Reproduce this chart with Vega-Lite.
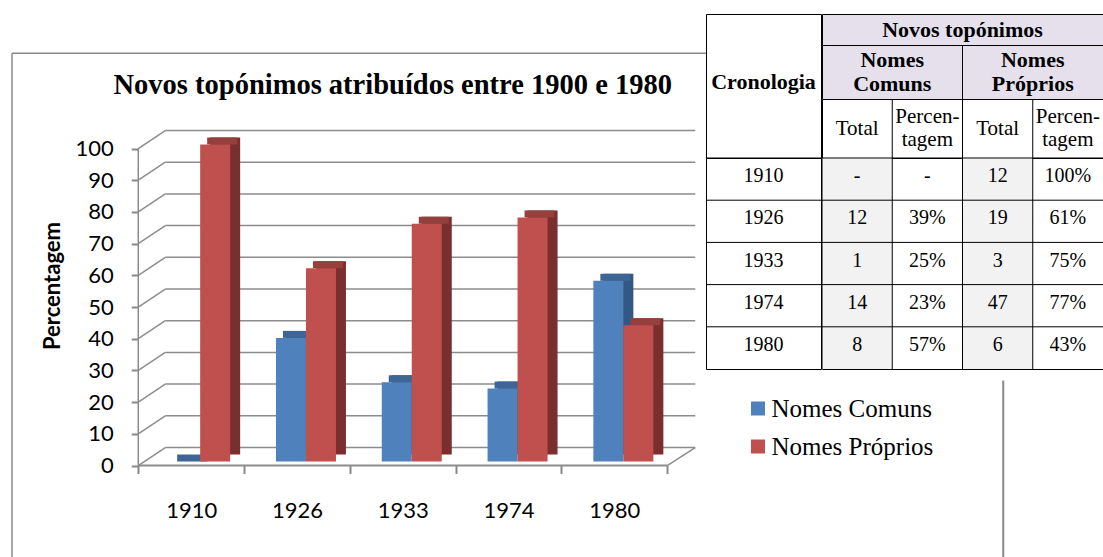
{
  "$schema": "https://vega.github.io/schema/vega-lite/v6.json",
  "padding": {"left": 11, "top": 13, "right": 0, "bottom": 0},
  "background": "white",
  "bounds": "flush",
  "spacing": 0,
  "config": {"view": {"stroke": null}, "concat": {"spacing": 0}, "font": "Liberation Serif"},
  "datasets": {
    "bars": [
      {"year": "1910", "series": "Nomes Comuns", "value": 0},
      {"year": "1926", "series": "Nomes Comuns", "value": 39},
      {"year": "1933", "series": "Nomes Comuns", "value": 25},
      {"year": "1974", "series": "Nomes Comuns", "value": 23},
      {"year": "1980", "series": "Nomes Comuns", "value": 57},
      {"year": "1910", "series": "Nomes Próprios", "value": 100},
      {"year": "1926", "series": "Nomes Próprios", "value": 61},
      {"year": "1933", "series": "Nomes Próprios", "value": 75},
      {"year": "1974", "series": "Nomes Próprios", "value": 77},
      {"year": "1980", "series": "Nomes Próprios", "value": 43}
    ],
    "cells": [
      {"year": "1910", "col": "NCT", "text": "-"},
      {"year": "1910", "col": "NCP", "text": "-"},
      {"year": "1910", "col": "NPT", "text": "12"},
      {"year": "1910", "col": "NPP", "text": "100%"},
      {"year": "1926", "col": "NCT", "text": "12"},
      {"year": "1926", "col": "NCP", "text": "39%"},
      {"year": "1926", "col": "NPT", "text": "19"},
      {"year": "1926", "col": "NPP", "text": "61%"},
      {"year": "1933", "col": "NCT", "text": "1"},
      {"year": "1933", "col": "NCP", "text": "25%"},
      {"year": "1933", "col": "NPT", "text": "3"},
      {"year": "1933", "col": "NPP", "text": "75%"},
      {"year": "1974", "col": "NCT", "text": "14"},
      {"year": "1974", "col": "NCP", "text": "23%"},
      {"year": "1974", "col": "NPT", "text": "47"},
      {"year": "1974", "col": "NPP", "text": "77%"},
      {"year": "1980", "col": "NCT", "text": "8"},
      {"year": "1980", "col": "NCP", "text": "57%"},
      {"year": "1980", "col": "NPT", "text": "6"},
      {"year": "1980", "col": "NPP", "text": "43%"}
    ],
    "grid": [{"v": 0}, {"v": 10}, {"v": 20}, {"v": 30}, {"v": 40}, {"v": 50}, {"v": 60}, {"v": 70}, {"v": 80}, {"v": 90}, {"v": 100}],
    "one": [{"k": 1}]
  },
  "hconcat": [
    {
      "width": 694,
      "height": 543,
      "layer": [
        {
          "data": {"name": "one"},
          "mark": {"type": "rule", "color": "#888888", "strokeWidth": 1.5},
          "encoding": {
            "x": {"datum": "1910", "type": "nominal", "bandPosition": -1.1933,
              "scale": {"type": "band", "domain": ["1910", "1926", "1933", "1974", "1980"], "paddingInner": 0, "paddingOuter": 0.7798, "align": 0.7652},
              "axis": {"orient": "bottom", "offset": -91.5, "tickBand": "extent", "domain": false, "grid": false, "ticks": true, "tickSize": 8, "tickColor": "#888888", "tickWidth": 2, "labelFont": "Lato", "labelFontSize": 22, "labelColor": "#000000", "labelPadding": 27, "labelAngle": 0, "title": null}},
            "y": {"datum": 130.06, "type": "quantitative",
              "scale": {"domain": [-28.86, 142.43], "nice": false, "zero": false},
              "axis": {"orient": "left", "offset": -126.25, "values": [0, 10, 20, 30, 40, 50, 60, 70, 80, 90, 100], "domain": false, "grid": false, "ticks": true, "tickSize": 7, "tickColor": "#888888", "tickWidth": 2, "labelFont": "Lato", "labelFontSize": 22, "labelColor": "#000000", "labelPadding": 18, "title": "Percentagem", "titleFont": "Lato", "titleFontSize": 22, "titleFontWeight": "bold", "titleColor": "#000000", "titlePadding": 10}},
            "y2": {"datum": -28.86}
          }
        },
        {
          "data": {"name": "one"},
          "mark": {"type": "rule", "color": "#888888", "strokeWidth": 1.5},
          "encoding": {"y": {"datum": 130.06, "type": "quantitative"}}
        },
        {
          "data": {"name": "one"},
          "mark": {"type": "rule", "color": "#888888", "strokeWidth": 2},
          "encoding": {
            "x": {"datum": "1980", "type": "nominal", "bandPosition": 4.1758},
            "y": {"datum": 26.8, "type": "quantitative"},
            "y2": {"datum": -28.86}
          }
        },
        {
          "data": {"name": "grid"},
          "mark": {"type": "rule", "color": "#8c8c8c", "strokeWidth": 1.5, "yOffset": -18},
          "encoding": {
            "x": {"datum": "1910", "type": "nominal", "bandPosition": 0.2552},
            "x2": {"datum": "1980", "bandPosition": 1.2647},
            "y": {"field": "v", "type": "quantitative"}
          }
        },
        {
          "data": {"name": "grid"},
          "mark": {"type": "rule", "color": "#8c8c8c", "strokeWidth": 1.5, "y2Offset": -18},
          "encoding": {
            "x": {"datum": "1910", "type": "nominal", "bandPosition": 0},
            "x2": {"datum": "1910", "bandPosition": 0.2552},
            "y": {"field": "v", "type": "quantitative"},
            "y2": {"field": "v"}
          }
        },
        {
          "data": {"name": "one"},
          "mark": {"type": "rule", "color": "#8c8c8c", "strokeWidth": 2},
          "encoding": {
            "x": {"datum": "1910", "type": "nominal", "bandPosition": 0},
            "x2": {"datum": "1980", "bandPosition": 1},
            "y": {"datum": 0, "type": "quantitative"}
          }
        },
        {
          "data": {"name": "one"},
          "mark": {"type": "rule", "color": "#8c8c8c", "strokeWidth": 1.5, "y2Offset": -18},
          "encoding": {
            "x": {"datum": "1980", "type": "nominal", "bandPosition": 1},
            "x2": {"datum": "1980", "bandPosition": 1.2647},
            "y": {"datum": 0, "type": "quantitative"},
            "y2": {"datum": 0}
          }
        },
        {
          "data": {"name": "one"},
          "mark": {"type": "rule", "color": "#8c8c8c", "strokeWidth": 1.5},
          "encoding": {
            "x": {"datum": "1910", "type": "nominal", "bandPosition": 0},
            "y": {"datum": 0, "type": "quantitative"},
            "y2": {"datum": 100}
          }
        },
        {
          "data": {"name": "bars"},
          "transform": [{"filter": {"field": "series", "equal": "Nomes Comuns"}}],
          "mark": {"type": "bar", "width": 30, "xOffset": 4, "yOffset": -11, "y2Offset": -11, "color": "#345886"},
          "encoding": {"x": {"field": "year", "type": "nominal"}, "y": {"field": "value", "type": "quantitative"}, "y2": {"datum": 0}}
        },
        {
          "data": {"name": "bars"},
          "transform": [{"filter": {"field": "series", "equal": "Nomes Comuns"}}],
          "mark": {"type": "bar", "width": 30, "xOffset": 1, "yOffset": -11, "y2Offset": -4, "color": "#3d6596"},
          "encoding": {"x": {"field": "year", "type": "nominal"}, "y": {"field": "value", "type": "quantitative"}, "y2": {"field": "value"}}
        },
        {
          "data": {"name": "bars"},
          "transform": [{"filter": {"field": "series", "equal": "Nomes Comuns"}}],
          "mark": {"type": "bar", "width": 30, "xOffset": -6, "yOffset": -4, "y2Offset": -4},
          "encoding": {
            "x": {"field": "year", "type": "nominal"},
            "y": {"field": "value", "type": "quantitative"},
            "y2": {"datum": 0},
            "color": {"field": "series", "type": "nominal",
              "scale": {"domain": ["Nomes Comuns", "Nomes Próprios"], "range": ["#4f81bd", "#c0504d"]},
              "legend": {"orient": "none", "legendX": 733.5, "legendY": 382, "direction": "vertical", "title": null, "symbolType": "square", "symbolSize": 196, "symbolStrokeWidth": 0, "symbolOpacity": 1, "labelFont": "Liberation Serif", "labelFontSize": 25, "labelColor": "#000000", "labelLimit": 400, "rowPadding": 12, "labelOffset": 1, "padding": 0}}
          }
        },
        {
          "data": {"name": "bars"},
          "transform": [{"filter": {"field": "series", "equal": "Nomes Próprios"}}],
          "mark": {"type": "bar", "width": 30, "xOffset": 34, "yOffset": -11, "y2Offset": -11, "color": "#7a2f2e"},
          "encoding": {"x": {"field": "year", "type": "nominal"}, "y": {"field": "value", "type": "quantitative"}, "y2": {"datum": 0}}
        },
        {
          "data": {"name": "bars"},
          "transform": [{"filter": {"field": "series", "equal": "Nomes Próprios"}}],
          "mark": {"type": "bar", "width": 30, "xOffset": 31, "yOffset": -11, "y2Offset": -4, "color": "#96403e"},
          "encoding": {"x": {"field": "year", "type": "nominal"}, "y": {"field": "value", "type": "quantitative"}, "y2": {"field": "value"}}
        },
        {
          "data": {"name": "bars"},
          "transform": [{"filter": {"field": "series", "equal": "Nomes Próprios"}}],
          "mark": {"type": "bar", "width": 30, "xOffset": 24, "yOffset": -4, "y2Offset": -4},
          "encoding": {
            "x": {"field": "year", "type": "nominal"},
            "y": {"field": "value", "type": "quantitative"},
            "y2": {"datum": 0},
            "color": {"field": "series", "type": "nominal"}
          }
        },
        {
          "data": {"values": [{"t": "Novos topónimos atribuídos entre 1900 e 1980"}]},
          "mark": {"type": "text", "font": "Liberation Serif", "fontSize": 28.5, "fontWeight": "bold", "color": "#000000", "align": "center", "baseline": "alphabetic"},
          "encoding": {
            "x": {"datum": "1933", "type": "nominal", "bandPosition": 0.405},
            "y": {"datum": 117.26, "type": "quantitative"},
            "text": {"field": "t"}
          }
        }
      ]
    },
    {
      "spacing": -1,
      "hconcat": [
        {
          "spacing": 0,
          "bounds": "flush",
          "vconcat": [
            {
              "width": 115,
              "height": 144,
              "view": {"stroke": "#000000", "strokeWidth": 1, "fill": "#ffffff"},
              "data": {"values": [{"h": "Cronologia"}]},
              "mark": {"type": "text", "font": "Liberation Serif", "fontSize": 22, "fontWeight": "bold", "color": "#000000", "dy": -4},
              "encoding": {"text": {"field": "h"}}
            },
            {
              "width": 115,
              "height": 211,
              "view": {"stroke": "#000000", "strokeWidth": 1, "fill": "#ffffff"},
              "data": {"name": "cells"},
              "transform": [{"filter": {"field": "col", "equal": "NCT"}}],
              "layer": [
                {
                  "mark": {"type": "text", "font": "Liberation Serif", "fontSize": 20, "color": "#000000", "dy": -3},
                  "encoding": {
                    "y": {"field": "year", "type": "nominal", "scale": {"type": "band", "paddingInner": 0, "paddingOuter": 0}, "axis": null},
                    "text": {"field": "year"}
                  }
                },
                {
                  "mark": {"type": "rule", "color": "#000000", "strokeWidth": 1},
                  "encoding": {"y": {"field": "year", "type": "nominal", "bandPosition": 0}}
                }
              ]
            }
          ]
        },
        {
          "spacing": 0,
          "bounds": "flush",
          "vconcat": [
            {
              "width": 281,
              "height": 31,
              "view": {"stroke": "#000000", "strokeWidth": 1, "fill": "#e5e0ec"},
              "data": {"values": [{"h": "Novos topónimos"}]},
              "mark": {"type": "text", "font": "Liberation Serif", "fontSize": 22, "fontWeight": "bold", "color": "#000000"},
              "encoding": {"text": {"field": "h"}}
            },
            {
              "width": 281,
              "height": 54,
              "view": {"stroke": "#000000", "strokeWidth": 1, "fill": "#e5e0ec"},
              "data": {"values": [{"g": "NC", "h": "Nomes\nComuns"}, {"g": "NP", "h": "Nomes\nPróprios"}]},
              "layer": [
                {
                  "mark": {"type": "text", "font": "Liberation Serif", "fontSize": 22, "fontWeight": "bold", "color": "#000000", "lineBreak": "\n", "lineHeight": 24, "dy": -12},
                  "encoding": {
                    "x": {"field": "g", "type": "nominal", "scale": {"type": "band", "paddingInner": 0, "paddingOuter": 0}, "axis": null},
                    "text": {"field": "h"}
                  }
                },
                {
                  "transform": [{"filter": {"field": "g", "equal": "NP"}}],
                  "mark": {"type": "rule", "color": "#000000", "strokeWidth": 1},
                  "encoding": {"x": {"field": "g", "type": "nominal", "bandPosition": 0}}
                }
              ]
            },
            {
              "width": 281,
              "height": 59,
              "view": {"stroke": "#000000", "strokeWidth": 1, "fill": "#ffffff"},
              "data": {"values": [{"c": "NCT", "h": "Total"}, {"c": "NCP", "h": "Percen-\ntagem"}, {"c": "NPT", "h": "Total"}, {"c": "NPP", "h": "Percen-\ntagem"}]},
              "layer": [
                {
                  "transform": [{"filter": {"field": "h", "equal": "Total"}}],
                  "mark": {"type": "text", "font": "Liberation Serif", "fontSize": 21, "color": "#000000"},
                  "encoding": {"x": {"field": "c", "type": "nominal", "scale": {"type": "band", "domain": ["NCT", "NCP", "NPT", "NPP"], "paddingInner": 0, "paddingOuter": 0}, "axis": null}, "text": {"field": "h"}}
                },
                {
                  "transform": [{"filter": {"not": {"field": "h", "equal": "Total"}}}],
                  "mark": {"type": "text", "font": "Liberation Serif", "fontSize": 21, "color": "#000000", "lineBreak": "\n", "lineHeight": 23, "dy": -11.5},
                  "encoding": {"x": {"field": "c", "type": "nominal"}, "text": {"field": "h"}}
                },
                {
                  "transform": [{"filter": {"not": {"field": "c", "equal": "NCT"}}}],
                  "mark": {"type": "rule", "color": "#000000", "strokeWidth": 1},
                  "encoding": {"x": {"field": "c", "type": "nominal", "bandPosition": 0}}
                }
              ]
            },
            {
              "width": 281,
              "height": 211,
              "view": {"stroke": "#000000", "strokeWidth": 1, "fill": "#ffffff"},
              "data": {"name": "cells"},
              "layer": [
                {
                  "transform": [{"filter": {"field": "col", "oneOf": ["NCT", "NPT"]}}],
                  "mark": {"type": "rect", "color": "#f2f2f2"},
                  "encoding": {
                    "x": {"field": "col", "type": "nominal", "scale": {"type": "band", "domain": ["NCT", "NCP", "NPT", "NPP"], "paddingInner": 0, "paddingOuter": 0}, "axis": null},
                    "y": {"field": "year", "type": "nominal", "scale": {"type": "band", "paddingInner": 0, "paddingOuter": 0}, "axis": null}
                  }
                },
                {
                  "transform": [{"filter": {"field": "col", "equal": "NCT"}}],
                  "mark": {"type": "rule", "color": "#000000", "strokeWidth": 1},
                  "encoding": {"y": {"field": "year", "type": "nominal", "bandPosition": 0}}
                },
                {
                  "transform": [{"filter": {"field": "year", "equal": "1910"}}],
                  "mark": {"type": "rule", "color": "#000000", "strokeWidth": 1},
                  "encoding": {"x": {"field": "col", "type": "nominal", "bandPosition": 0}}
                },
                {
                  "mark": {"type": "text", "font": "Liberation Serif", "fontSize": 20, "color": "#000000", "dy": -3},
                  "encoding": {
                    "x": {"field": "col", "type": "nominal"},
                    "y": {"field": "year", "type": "nominal"},
                    "text": {"field": "text"}
                  }
                }
              ]
            }
          ]
        }
      ]
    }
  ]
}
